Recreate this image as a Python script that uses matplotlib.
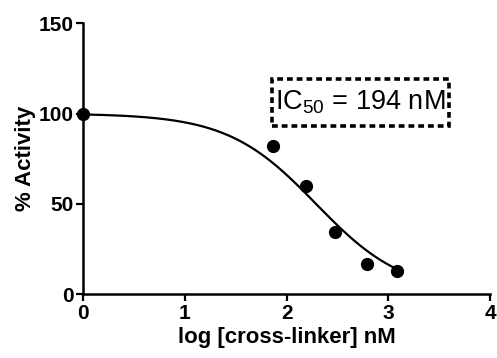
import numpy as np
import matplotlib
matplotlib.use("Agg")
import matplotlib.pyplot as plt
from matplotlib.patches import Rectangle

# Data
log_conc = [0.0, 1.87, 2.19, 2.48, 2.79, 3.09]
activity = [100.0, 82.2, 60.0, 34.4, 16.9, 12.9]

# Fitted 4-parameter logistic
fit_top = 100.0
fit_bottom = 0.0
fit_log_ic50 = np.log10(194)
fit_hill = 1.0

x_ticks = [0, 1, 2, 3, 4]
y_ticks = [0, 50, 100, 150]
x_label = "log [cross-linker] nM"
y_label = "% Activity"
annotation = r"IC$_{50}$ = 194 nM"

plt.rcParams['font.family'] = ['Liberation Sans', 'DejaVu Sans']
plt.rcParams['mathtext.fontset'] = 'custom'
plt.rcParams['mathtext.rm'] = 'Liberation Sans'
plt.rcParams['mathtext.it'] = 'Liberation Sans'

fig = plt.figure(figsize=(4.97, 3.58), dpi=100)
W, H = 497, 358
x0, x1 = 83.3, 490.0
y0, y1 = 294.0, 23.3
ax = fig.add_axes([x0 / W, 1 - y0 / H, (x1 - x0) / W, (y0 - y1) / H])

xs = np.linspace(log_conc[0], log_conc[-1], 300)
ys = fit_bottom + (fit_top - fit_bottom) / (1 + 10 ** ((xs - fit_log_ic50) * fit_hill))
ax.plot(xs, ys, color='black', lw=1.6, clip_on=False, zorder=3)
ax.plot(log_conc, activity, 'o', color='black', ms=8.5, clip_on=False, zorder=4)

ax.set_xlim(0, 4)
ax.set_ylim(0, 150)
ax.set_xticks(x_ticks)
ax.set_yticks(y_ticks)
for s in ['top', 'right']:
    ax.spines[s].set_visible(False)
for s in ['left', 'bottom']:
    ax.spines[s].set_linewidth(1.8)
ax.tick_params(axis='both', direction='out', length=5, width=1.6, labelsize=15, pad=2)
for lab in ax.get_xticklabels() + ax.get_yticklabels():
    lab.set_fontweight('bold')

ax.set_xlabel(x_label, fontsize=16, fontweight='bold', labelpad=3)
ax.set_ylabel(y_label, fontsize=16, fontweight='bold', labelpad=2)

# annotation box
bx0, bx1 = (272 - x0) / (x1 - x0), (449 - x0) / (x1 - x0)
by0, by1 = (y0 - 126) / (y0 - y1), (y0 - 79) / (y0 - y1)
ax.add_patch(Rectangle((bx0, by0), bx1 - bx0, by1 - by0, transform=ax.transAxes,
                       fc='white', ec='black', lw=2.6, ls=(0, (1.6, 1.1)), zorder=5))
ax.text((bx0 + bx1) / 2, (by0 + by1) / 2, annotation, fontsize=19.5, ha='center',
        va='center', transform=ax.transAxes, zorder=6)

fig.savefig('out.png', dpi=100)
